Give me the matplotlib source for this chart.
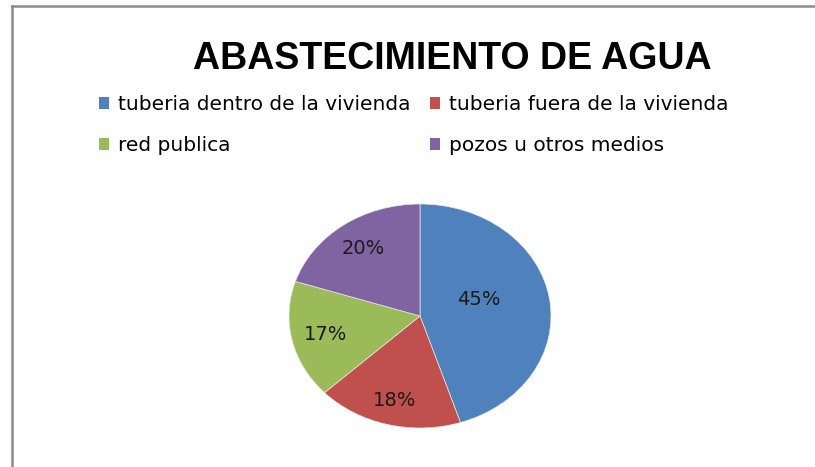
import numpy as np
import matplotlib
matplotlib.use("Agg")
import matplotlib.pyplot as plt
from matplotlib.patches import Patch
from matplotlib.lines import Line2D

# datos del grafico
categorias = ["tuberia dentro de la vivienda", "tuberia fuera de la vivienda",
              "red publica", "pozos u otros medios"]
porcentajes = [45, 18, 17, 20]
colores = ["#4F81BD", "#C0504D", "#9BBB59", "#8064A2"]
titulo = "ABASTECIMIENTO DE AGUA"

plt.rcParams['font.family'] = ['DejaVu Sans']

fig = plt.figure(figsize=(8.15, 4.67), dpi=100)

# marco gris (solo arriba e izquierda visibles)
fig.add_artist(Line2D([12/815, 12/815], [0, 1 - 6/467], color="#8c8c8c", lw=1.8,
                      transform=fig.transFigure))
fig.add_artist(Line2D([12/815, 1], [1 - 6/467, 1 - 6/467], color="#8c8c8c", lw=1.8,
                      transform=fig.transFigure))

fig.text(452/815, 1 - 59/467, titulo, ha="center", va="center", fontsize=27,
         fontweight="bold", family=["Liberation Sans", "DejaVu Sans"])

# pie (eliptico, como en la imagen original)
ax = fig.add_axes([289/815, 1 - 428/467, 262/815, 224/467])
wedges, texts, autotexts = ax.pie(porcentajes, colors=colores, startangle=90,
                                  counterclock=False, autopct="%1.0f%%",
                                  pctdistance=0.75,
                                  wedgeprops=dict(linewidth=0.5, edgecolor="#e8e8e8"),
                                  textprops=dict(fontsize=14, color="#1a1a1a"))
ax.set_aspect("auto")
ax.set_xlim(-1, 1)
ax.set_ylim(-1, 1)

# etiqueta del sector grande mas cerca del centro
radios = [0.47, 0.78, 0.74, 0.74]
giro = [9, 0, 0, 0]
for w, t, r, g in zip(wedges, autotexts, radios, giro):
    ang = np.deg2rad((w.theta1 + w.theta2) / 2 + g)
    t.set_position((r * np.cos(ang), r * np.sin(ang)))

# leyenda en dos columnas (orden por filas)
handles = [Patch(facecolor=c, edgecolor="none") for c in colores]
orden = [0, 2, 1, 3]
fig.legend([handles[i] for i in orden], [categorias[i] for i in orden],
           ncol=2, loc="upper left", bbox_to_anchor=(99/815, 1 - 95/467),
           frameon=False, fontsize=14.5, handlelength=0.5, handleheight=0.55,
           handletextpad=0.45, columnspacing=0.95, labelspacing=1.08,
           borderpad=0, borderaxespad=0)

fig.savefig("out.png", dpi=100)
